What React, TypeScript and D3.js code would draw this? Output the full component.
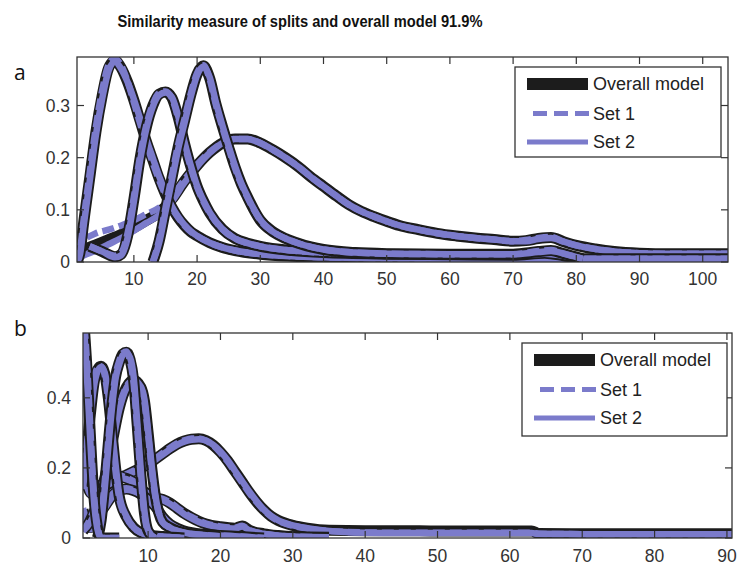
import React from 'react';
import * as d3 from 'd3';

const TITLE = 'Similarity measure of splits and overall model 91.9%';
const LEGEND_LABELS = ['Overall model', 'Set 1', 'Set 2'];

const A_X_TICKS = [10, 20, 30, 40, 50, 60, 70, 80, 90, 100];
const A_Y_TICKS = [0, 0.1, 0.2, 0.3];
const B_X_TICKS = [10, 20, 30, 40, 50, 60, 70, 80, 90];
const B_Y_TICKS = [0, 0.2, 0.4];

// ---------- Panel a ----------
const aA_x = [1, 1.5, 2, 3, 4, 5, 6, 7, 8, 9, 10, 11, 12, 13, 14, 15, 16, 17, 18, 19, 20, 22, 24, 26, 30, 35, 40, 50, 60, 80, 104];
const aA_all = [0.0, 0.02, 0.07, 0.16, 0.25, 0.32, 0.372, 0.386, 0.372, 0.345, 0.31, 0.27, 0.23, 0.195, 0.16, 0.13, 0.105, 0.085, 0.07, 0.058, 0.05, 0.037, 0.028, 0.022, 0.015, 0.011, 0.009, 0.007, 0.006, 0.006, 0.006];
const aA_s1 = [0.0, 0.024, 0.076, 0.17, 0.26, 0.33, 0.378, 0.39, 0.376, 0.346, 0.306, 0.265, 0.226, 0.19, 0.157, 0.128, 0.104, 0.085, 0.07, 0.058, 0.05, 0.037, 0.028, 0.022, 0.015, 0.011, 0.009, 0.007, 0.006, 0.006, 0.006];
const aA_s2 = [0.0, 0.016, 0.064, 0.154, 0.244, 0.314, 0.367, 0.384, 0.37, 0.345, 0.312, 0.274, 0.234, 0.199, 0.164, 0.133, 0.107, 0.087, 0.071, 0.059, 0.05, 0.037, 0.028, 0.022, 0.015, 0.011, 0.009, 0.007, 0.006, 0.006, 0.006];

const aB_x = [3, 5, 7, 8, 9, 10, 11, 12, 13, 14, 15, 16, 17, 18, 19, 20, 21, 22, 24, 26, 28, 30, 35, 40, 50, 60, 70, 75, 78, 81];
const aB_all = [0.03, 0.02, 0.01, 0.015, 0.05, 0.12, 0.2, 0.26, 0.3, 0.322, 0.326, 0.315, 0.278, 0.228, 0.183, 0.145, 0.117, 0.094, 0.063, 0.045, 0.036, 0.03, 0.022, 0.018, 0.015, 0.014, 0.013, 0.017, 0.012, 0.005];
const aB_s1 = [0.03, 0.02, 0.012, 0.018, 0.055, 0.125, 0.205, 0.264, 0.303, 0.324, 0.327, 0.314, 0.276, 0.226, 0.181, 0.144, 0.116, 0.094, 0.063, 0.045, 0.036, 0.03, 0.022, 0.018, 0.015, 0.014, 0.013, 0.018, 0.012, 0.005];
const aB_s2 = [0.03, 0.02, 0.009, 0.013, 0.046, 0.116, 0.196, 0.257, 0.298, 0.32, 0.325, 0.316, 0.28, 0.23, 0.185, 0.146, 0.118, 0.095, 0.063, 0.045, 0.036, 0.03, 0.022, 0.018, 0.015, 0.014, 0.013, 0.016, 0.012, 0.005];

const aC_x = [13, 14, 15, 16, 17, 18, 19, 20, 21, 22, 23, 24, 25, 26, 27, 28, 29, 30, 32, 34, 36, 38, 40, 45, 50, 60, 70, 74, 76, 78, 81];
const aC_all = [0.0, 0.04, 0.1, 0.16, 0.22, 0.27, 0.32, 0.36, 0.376, 0.352, 0.302, 0.26, 0.22, 0.182, 0.15, 0.124, 0.1, 0.08, 0.058, 0.045, 0.036, 0.029, 0.024, 0.018, 0.016, 0.015, 0.015, 0.02, 0.022, 0.016, 0.006];
const aC_s1 = [0.0, 0.043, 0.104, 0.165, 0.225, 0.274, 0.323, 0.362, 0.377, 0.35, 0.3, 0.258, 0.218, 0.18, 0.149, 0.123, 0.1, 0.08, 0.058, 0.045, 0.036, 0.029, 0.024, 0.018, 0.016, 0.015, 0.015, 0.021, 0.023, 0.016, 0.006];
const aC_s2 = [0.0, 0.037, 0.096, 0.156, 0.216, 0.266, 0.317, 0.358, 0.375, 0.354, 0.305, 0.262, 0.222, 0.184, 0.151, 0.125, 0.101, 0.081, 0.058, 0.045, 0.036, 0.029, 0.024, 0.018, 0.016, 0.015, 0.015, 0.019, 0.021, 0.016, 0.006];

const aD_x = [1, 2, 4, 6, 8, 10, 12, 14, 16, 18, 20, 22, 24, 26, 28, 30, 32, 34, 36, 38, 40, 42, 44, 46, 48, 50, 52, 55, 58, 61, 64, 67, 70, 72, 74, 76, 78, 80, 83, 86, 90, 95, 100, 104];
const aD_all = [0.01, 0.022, 0.033, 0.043, 0.053, 0.066, 0.08, 0.095, 0.12, 0.155, 0.185, 0.21, 0.228, 0.236, 0.236, 0.228, 0.215, 0.2, 0.183, 0.163, 0.145, 0.127, 0.11, 0.097, 0.087, 0.078, 0.07, 0.062, 0.055, 0.05, 0.046, 0.043, 0.04, 0.041, 0.045, 0.047, 0.039, 0.032, 0.025, 0.02, 0.017, 0.016, 0.016, 0.016];
const aD_s1 = [0.02, 0.04, 0.055, 0.062, 0.07, 0.08, 0.092, 0.104, 0.126, 0.158, 0.187, 0.211, 0.228, 0.236, 0.236, 0.228, 0.215, 0.2, 0.183, 0.163, 0.145, 0.127, 0.11, 0.097, 0.087, 0.078, 0.07, 0.062, 0.055, 0.05, 0.046, 0.043, 0.04, 0.042, 0.046, 0.048, 0.039, 0.032, 0.025, 0.02, 0.017, 0.016, 0.016, 0.016];
const aD_s2 = [0.005, 0.012, 0.022, 0.034, 0.046, 0.06, 0.075, 0.09, 0.116, 0.152, 0.183, 0.209, 0.228, 0.236, 0.236, 0.228, 0.215, 0.2, 0.183, 0.163, 0.145, 0.127, 0.11, 0.097, 0.087, 0.078, 0.07, 0.062, 0.055, 0.05, 0.046, 0.043, 0.04, 0.04, 0.044, 0.046, 0.039, 0.032, 0.025, 0.02, 0.017, 0.016, 0.016, 0.016];

// ---------- Panel b ----------
const bP0_x = [1, 1.5, 2, 2.5, 3, 3.5, 4, 6];
const bP0_all = [0.65, 0.5, 0.3, 0.12, 0.03, 0.0, 0.0, 0.0];
const bP0_s1 = [0.65, 0.52, 0.32, 0.13, 0.035, 0.0, 0.0, 0.0];
const bP0_s2 = [0.65, 0.48, 0.28, 0.11, 0.025, 0.0, 0.0, 0.0];

const bP1_x = [1, 1.5, 2, 2.5, 3, 3.5, 4, 4.5, 5, 5.5, 6, 7, 8, 9, 10, 12, 15];
const bP1_all = [0.15, 0.25, 0.35, 0.44, 0.48, 0.49, 0.47, 0.4, 0.3, 0.2, 0.12, 0.06, 0.03, 0.015, 0.008, 0.004, 0.0];
const bP1_s1 = [0.16, 0.26, 0.36, 0.45, 0.485, 0.49, 0.465, 0.39, 0.29, 0.19, 0.115, 0.058, 0.03, 0.015, 0.008, 0.004, 0.0];
const bP1_s2 = [0.14, 0.24, 0.34, 0.43, 0.475, 0.488, 0.472, 0.41, 0.31, 0.21, 0.125, 0.062, 0.03, 0.015, 0.008, 0.004, 0.0];

const bP2_x = [3, 3.5, 4, 4.5, 5, 5.5, 6, 6.5, 7, 7.5, 8, 8.5, 9, 9.5, 10, 11];
const bP2_all = [0.0, 0.05, 0.15, 0.27, 0.38, 0.46, 0.5, 0.525, 0.53, 0.51, 0.45, 0.32, 0.18, 0.07, 0.02, 0.0];
const bP2_s1 = [0.0, 0.055, 0.16, 0.28, 0.39, 0.465, 0.505, 0.528, 0.532, 0.505, 0.44, 0.31, 0.17, 0.065, 0.018, 0.0];
const bP2_s2 = [0.0, 0.045, 0.14, 0.26, 0.37, 0.455, 0.495, 0.522, 0.528, 0.515, 0.46, 0.33, 0.19, 0.075, 0.022, 0.0];

const bP3_x = [1, 2, 3, 4, 5, 6, 7, 8, 9, 9.5, 10, 10.5, 11, 11.5, 12, 13, 15, 18, 20];
const bP3_all = [0.02, 0.05, 0.1, 0.17, 0.27, 0.37, 0.43, 0.45, 0.43, 0.39, 0.3, 0.2, 0.12, 0.07, 0.045, 0.03, 0.015, 0.008, 0.005];
const bP3_s1 = [0.02, 0.055, 0.11, 0.18, 0.28, 0.375, 0.432, 0.45, 0.428, 0.385, 0.295, 0.195, 0.118, 0.07, 0.045, 0.03, 0.015, 0.008, 0.005];
const bP3_s2 = [0.02, 0.045, 0.09, 0.16, 0.26, 0.365, 0.428, 0.45, 0.432, 0.395, 0.305, 0.205, 0.122, 0.07, 0.045, 0.03, 0.015, 0.008, 0.005];

const bQ_x = [1, 2, 3, 4, 5, 6, 7, 8, 9, 10, 11, 12, 13, 14, 15, 16, 17, 18, 19, 20, 21, 22, 23, 24, 25, 26, 27, 28, 30, 32, 35, 40, 45, 50, 55, 60, 63, 64, 70, 80, 91];
const bQ_all = [0.2, 0.13, 0.12, 0.13, 0.15, 0.17, 0.18, 0.19, 0.2, 0.21, 0.225, 0.24, 0.255, 0.268, 0.277, 0.282, 0.283, 0.278, 0.265, 0.245, 0.22, 0.19, 0.16, 0.13, 0.103, 0.08, 0.062, 0.05, 0.036, 0.028, 0.022, 0.021, 0.021, 0.02, 0.02, 0.02, 0.02, 0.013, 0.012, 0.012, 0.012];
const bQ_s1 = [0.21, 0.14, 0.125, 0.135, 0.155, 0.172, 0.182, 0.192, 0.202, 0.212, 0.227, 0.242, 0.257, 0.27, 0.279, 0.284, 0.284, 0.278, 0.264, 0.243, 0.218, 0.188, 0.158, 0.128, 0.102, 0.079, 0.061, 0.049, 0.035, 0.027, 0.02, 0.016, 0.015, 0.015, 0.015, 0.015, 0.015, 0.012, 0.011, 0.011, 0.011];
const bQ_s2 = [0.19, 0.125, 0.115, 0.125, 0.145, 0.168, 0.178, 0.188, 0.198, 0.208, 0.223, 0.238, 0.253, 0.266, 0.275, 0.28, 0.282, 0.278, 0.266, 0.247, 0.222, 0.192, 0.162, 0.132, 0.105, 0.081, 0.063, 0.05, 0.036, 0.028, 0.02, 0.015, 0.014, 0.014, 0.014, 0.014, 0.014, 0.012, 0.011, 0.011, 0.011];

const bR_x = [1, 2, 3, 4, 5, 6, 7, 8, 9, 10, 11, 12, 13, 14, 15, 16, 17, 18, 20, 22, 23, 24, 26, 28, 30, 35];
const bR_all = [0.17, 0.16, 0.15, 0.15, 0.16, 0.175, 0.17, 0.16, 0.14, 0.125, 0.115, 0.11, 0.1, 0.085, 0.07, 0.058, 0.048, 0.04, 0.032, 0.028, 0.034, 0.022, 0.012, 0.007, 0.004, 0.002];
const bR_s1 = [0.175, 0.165, 0.155, 0.152, 0.162, 0.178, 0.172, 0.162, 0.142, 0.127, 0.117, 0.112, 0.102, 0.087, 0.072, 0.06, 0.05, 0.041, 0.033, 0.029, 0.035, 0.022, 0.012, 0.007, 0.004, 0.002];
const bR_s2 = [0.165, 0.155, 0.145, 0.148, 0.158, 0.172, 0.168, 0.158, 0.138, 0.123, 0.113, 0.108, 0.098, 0.083, 0.068, 0.056, 0.046, 0.039, 0.031, 0.027, 0.033, 0.022, 0.012, 0.007, 0.004, 0.002];

const bS_x = [1, 2, 3, 4, 5, 6, 7, 8, 9, 10, 11, 12, 13, 14, 16, 18, 22, 26];
const bS_all = [0.08, 0.03, 0.06, 0.09, 0.12, 0.135, 0.14, 0.135, 0.125, 0.11, 0.09, 0.06, 0.04, 0.028, 0.015, 0.01, 0.005, 0.0];
const bS_s1 = [0.085, 0.035, 0.065, 0.095, 0.124, 0.138, 0.142, 0.136, 0.125, 0.108, 0.087, 0.058, 0.039, 0.027, 0.015, 0.01, 0.005, 0.0];
const bS_s2 = [0.075, 0.025, 0.055, 0.085, 0.116, 0.132, 0.138, 0.134, 0.125, 0.112, 0.093, 0.062, 0.041, 0.029, 0.015, 0.01, 0.005, 0.0];

type Curve = { x: number[]; all: number[]; s1: number[]; s2: number[] };

const curvesA: Curve[] = [
  { x: aD_x, all: aD_all, s1: aD_s1, s2: aD_s2 },
  { x: aA_x, all: aA_all, s1: aA_s1, s2: aA_s2 },
  { x: aB_x, all: aB_all, s1: aB_s1, s2: aB_s2 },
  { x: aC_x, all: aC_all, s1: aC_s1, s2: aC_s2 },
];

const curvesB: Curve[] = [
  { x: bQ_x, all: bQ_all, s1: bQ_s1, s2: bQ_s2 },
  { x: bR_x, all: bR_all, s1: bR_s1, s2: bR_s2 },
  { x: bS_x, all: bS_all, s1: bS_s1, s2: bS_s2 },
  { x: bP3_x, all: bP3_all, s1: bP3_s1, s2: bP3_s2 },
  { x: bP1_x, all: bP1_all, s1: bP1_s1, s2: bP1_s2 },
  { x: bP2_x, all: bP2_all, s1: bP2_s1, s2: bP2_s2 },
  { x: bP0_x, all: bP0_all, s1: bP0_s1, s2: bP0_s2 },
];

const BLUE = '#7b7bcb';
const BLACK = '#1c1c1c';
const AXIS = '#333333';
const FONT = '"Liberation Sans", Arial, sans-serif';

type PanelProps = {
  id: string;
  label: string;
  left: number;
  top: number;
  right: number;
  bottom: number;
  xDomain: [number, number];
  yDomain: [number, number];
  xTicks: number[];
  yTicks: number[];
  curves: Curve[];
  legend: { x: number; y: number; w: number; h: number };
  yLabelRight: number;
  xLabelDy: number;
  labelPos: [number, number];
};

function Panel(p: PanelProps) {
  const xs = d3.scaleLinear().domain(p.xDomain).range([p.left, p.right]);
  const ys = d3.scaleLinear().domain(p.yDomain).range([p.bottom, p.top]);
  const mk = (xv: number[], yv: number[]) =>
    d3
      .line<number>()
      .x((_, i) => xs(xv[i]))
      .y((d) => ys(d))
      .curve(d3.curveMonotoneX)(yv) || '';
  const tl = 7;
  const clipId = 'clip-' + p.id;
  const lg = p.legend;
  const rows = [17, 46.5, 75];
  return (
    <g>
      <defs>
        <clipPath id={clipId}>
          <rect x={p.left} y={p.top} width={p.right - p.left} height={p.bottom - p.top} />
        </clipPath>
      </defs>
      <text x={p.labelPos[0]} y={p.labelPos[1]} fontFamily='"Open Sans", sans-serif' fontSize={21} fill="#111">
        {p.label}
      </text>
      <g clipPath={`url(#${clipId})`}>
        {p.curves.map((c, i) => (
          <g key={i}>
            <path d={mk(c.x, c.all)} fill="none" stroke={BLACK} strokeWidth={11} strokeLinejoin="round" />
            <path d={mk(c.x, c.s1)} fill="none" stroke={BLUE} strokeWidth={6.5} strokeDasharray="12,5" strokeLinejoin="round" />
            <path d={mk(c.x, c.s2)} fill="none" stroke={BLUE} strokeWidth={6.5} strokeLinejoin="round" />
          </g>
        ))}
      </g>
      <rect x={p.left} y={p.top} width={p.right - p.left} height={p.bottom - p.top} fill="none" stroke={AXIS} strokeWidth={1.3} />
      {p.xTicks.map((t) => (
        <g key={'x' + t}>
          <line x1={xs(t)} x2={xs(t)} y1={p.bottom} y2={p.bottom - tl} stroke={AXIS} strokeWidth={1.2} />
          <line x1={xs(t)} x2={xs(t)} y1={p.top} y2={p.top + tl} stroke={AXIS} strokeWidth={1.2} />
          <text x={xs(t)} y={p.bottom + p.xLabelDy} textAnchor="middle" fontFamily={FONT} fontSize={17.5} fill={AXIS}>
            {t}
          </text>
        </g>
      ))}
      {p.yTicks.map((t) => (
        <g key={'y' + t}>
          <line x1={p.left} x2={p.left + tl} y1={ys(t)} y2={ys(t)} stroke={AXIS} strokeWidth={1.2} />
          <line x1={p.right} x2={p.right - tl} y1={ys(t)} y2={ys(t)} stroke={AXIS} strokeWidth={1.2} />
          <text x={p.yLabelRight} y={ys(t)} dy="0.36em" textAnchor="end" fontFamily={FONT} fontSize={17.5} fill={AXIS}>
            {String(t)}
          </text>
        </g>
      ))}
      <rect x={lg.x} y={lg.y} width={lg.w} height={lg.h} fill="#fff" stroke={AXIS} strokeWidth={1.3} />
      <line x1={lg.x + 12} x2={lg.x + 73} y1={lg.y + rows[0]} y2={lg.y + rows[0]} stroke={BLACK} strokeWidth={12} />
      <line x1={lg.x + 18} x2={lg.x + 74} y1={lg.y + rows[1]} y2={lg.y + rows[1]} stroke={BLUE} strokeWidth={5} strokeDasharray="14,7" />
      <line x1={lg.x + 12} x2={lg.x + 73} y1={lg.y + rows[2]} y2={lg.y + rows[2]} stroke={BLUE} strokeWidth={5} />
      {LEGEND_LABELS.map((s, i) => (
        <text key={s} x={lg.x + 78} y={lg.y + rows[i]} dy="0.36em" fontFamily={FONT} fontSize={18} fill="#222">
          {s}
        </text>
      ))}
    </g>
  );
}

export default function App() {
  return (
    <svg width={737} height={565} style={{ position: 'absolute', left: 0, top: 0, background: '#fff' }}>
      <rect x={0} y={0} width={737} height={565} fill="#fff" />
      <text x={300} y={27} textAnchor="middle" fontFamily={FONT} fontWeight="bold" fontSize={16} fill="#111" textLength={365} lengthAdjust="spacingAndGlyphs">
        {TITLE}
      </text>
      <Panel
        id="a"
        label="a"
        left={77}
        top={57}
        right={728}
        bottom={262}
        xDomain={[1, 104]}
        yDomain={[0, 0.393]}
        xTicks={A_X_TICKS}
        yTicks={A_Y_TICKS}
        curves={curvesA}
        legend={{ x: 515, y: 67, w: 206, h: 90 }}
        yLabelRight={70}
        xLabelDy={23}
        labelPos={[14, 80]}
      />
      <Panel
        id="b"
        label="b"
        left={83}
        top={333}
        right={732}
        bottom={538}
        xDomain={[1, 90.7]}
        yDomain={[0, 0.585]}
        xTicks={B_X_TICKS}
        yTicks={B_Y_TICKS}
        curves={curvesB}
        legend={{ x: 522, y: 343, w: 205, h: 93 }}
        yLabelRight={71}
        xLabelDy={24}
        labelPos={[14, 336]}
      />
    </svg>
  );
}
